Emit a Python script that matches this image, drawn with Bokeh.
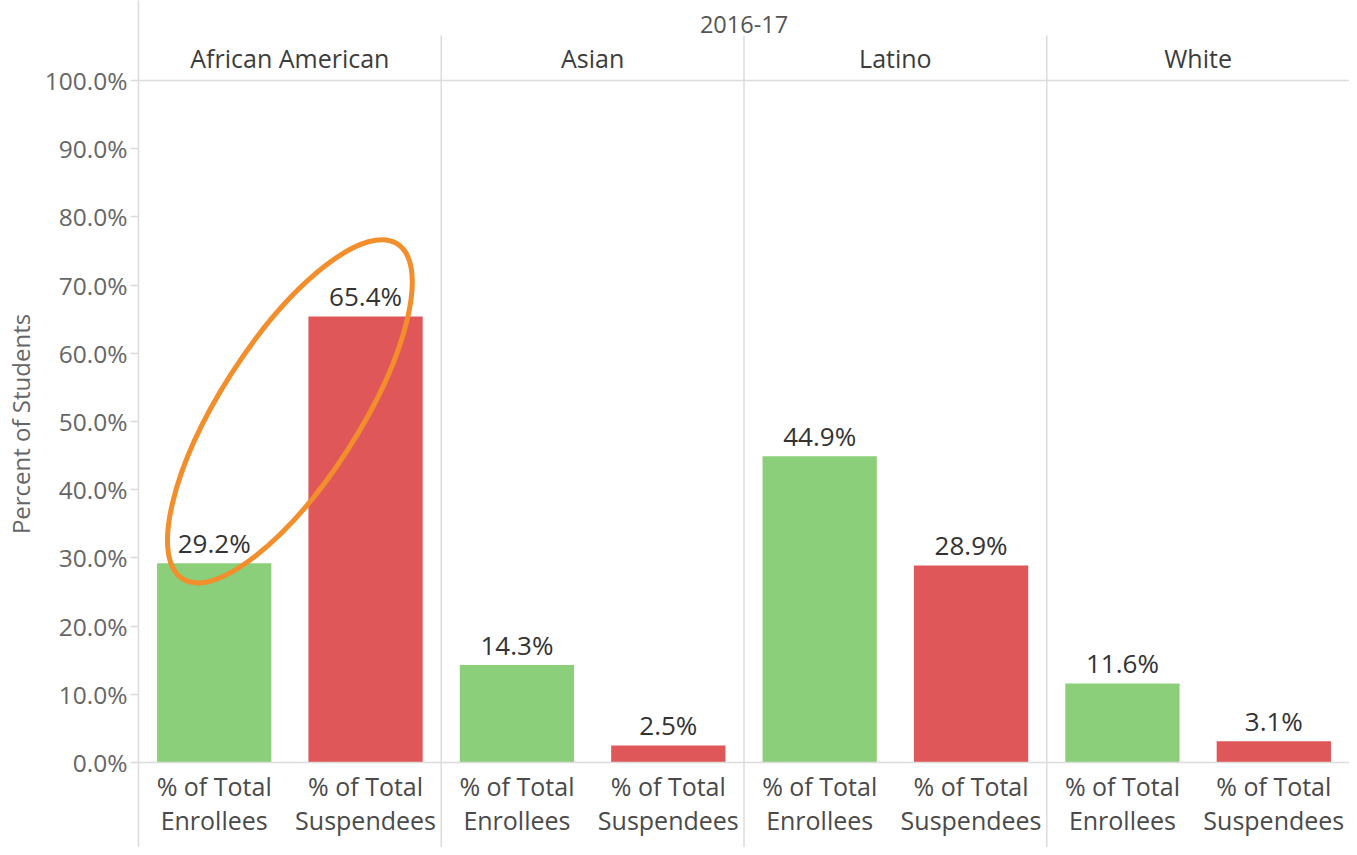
from bokeh.plotting import figure
from bokeh.models import FactorRange, Range1d, FixedTicker, PrintfTickFormatter, Span, ColumnDataSource
from bokeh.core.properties import value
from bokeh.embed import file_html
from bokeh.resources import INLINE

# ---- data ----
period = "2016-17"
groups = ["African American", "Asian", "Latino", "White"]
measures = ["% of Total\nEnrollees", "% of Total\nSuspendees"]
enrollees = [29.2, 14.3, 44.9, 11.6]
suspendees = [65.4, 2.5, 28.9, 3.1]
y_ticks = [0, 10, 20, 30, 40, 50, 60, 70, 80, 90, 100]
y_title = "Percent of Students"

GREEN = "#8bcf7b"
RED = "#e05759"
ORANGE = "#f28e2b"
LINE = "#dcdcdc"
FONT = "Open Sans"

factors = [(g, m) for g in groups for m in measures]
vals = []
colors = []
for i, g in enumerate(groups):
    vals += [enrollees[i], suspendees[i]]
    colors += [GREEN, RED]
labels = ["%.1f%%" % v for v in vals]
src = ColumnDataSource(dict(x=factors, top=vals, color=colors, label=labels))

W, H = 1349, 847
LEFT = 134
# px per percent and frame placement
pp = 6.82
zero_v = 762
top_v = zero_v - 100 * pp
y_end = 100 + top_v / pp
y_start = -(H - zero_v) / pp

def v2y(v):
    return 100 + (top_v - v) / pp

p = figure(width=W, height=H, output_backend="svg", toolbar_location=None,
           x_range=FactorRange(*factors, range_padding=0, group_padding=0, factor_padding=0),
           y_range=Range1d(y_start, y_end),
           x_axis_location=None, y_axis_location="left",
           min_border_left=LEFT, min_border_right=0, min_border_top=0, min_border_bottom=0)
p.outline_line_color = None
p.xgrid.visible = False
p.ygrid.visible = False
p.background_fill_color = "white"

ax = p.yaxis[0]
ax.ticker = FixedTicker(ticks=y_ticks)
ax.formatter = PrintfTickFormatter(format="%.1f%%")
ax.minor_tick_line_color = None
ax.major_tick_in = 0
ax.major_tick_out = 8
ax.major_tick_line_color = LINE
ax.major_tick_line_width = 1.5
ax.axis_line_color = LINE
ax.axis_line_width = 1.5
ax.major_label_standoff = 3
ax.major_label_text_font = FONT
ax.major_label_text_font_size = "24.5px"
ax.major_label_text_color = "#666666"
ax.axis_label = y_title
ax.axis_label_text_font = FONT
ax.axis_label_text_font_size = "24px"
ax.axis_label_text_font_style = "normal"
ax.axis_label_text_color = "#666666"
ax.axis_label_standoff = 5

# header line (at 100%) and baseline (at 0%)
p.add_layout(Span(location=100, dimension="width", line_color=LINE, line_width=1.5))
p.add_layout(Span(location=0, dimension="width", line_color=LINE, line_width=1.5))

# panel separators
n = len(measures)
bounds = [n * i for i in range(1, len(groups))]
sep_top = v2y(35)
p.segment(x0=bounds, x1=bounds, y0=[sep_top] * len(bounds), y1=[y_start] * len(bounds),
          line_color=LINE, line_width=1.5)

# bars
p.vbar(x="x", top="top", bottom=0, width=0.755, fill_color="color", line_color=None, source=src)

# value labels
p.text(x="x", y="top", text="label", source=src, text_align="center", text_baseline="bottom",
       y_offset=-2, text_font=value(FONT), text_font_size="26px", text_color="#333333")

# group headers
p.text(x=groups, y=[v2y(57)] * len(groups), text=groups, text_align="center",
       text_baseline="middle", text_font=value(FONT), text_font_size="25px", text_color="#3c3c3c")

# period header
p.text(x=[len(factors) / 2], y=[v2y(24)], text=[period], text_align="center",
       text_baseline="middle", text_font=value(FONT), text_font_size="23.5px", text_color="#555555")

# measure labels under bars
p.text(x=factors, y=[0] * len(factors), text=[f[1] for f in factors], text_align="center",
       text_baseline="top", y_offset=6, text_line_height=1.0,
       text_font=value(FONT), text_font_size="25px", text_color="#4a4a4a")

# highlight ellipse around African American bars
p.ellipse(x=[groups[0]], y=[51.5], width=398, height=139, width_units="screen",
          height_units="screen", angle=1.0, fill_color=None, line_color=ORANGE, line_width=5)

open("out.html", "w").write(file_html(p, INLINE))
